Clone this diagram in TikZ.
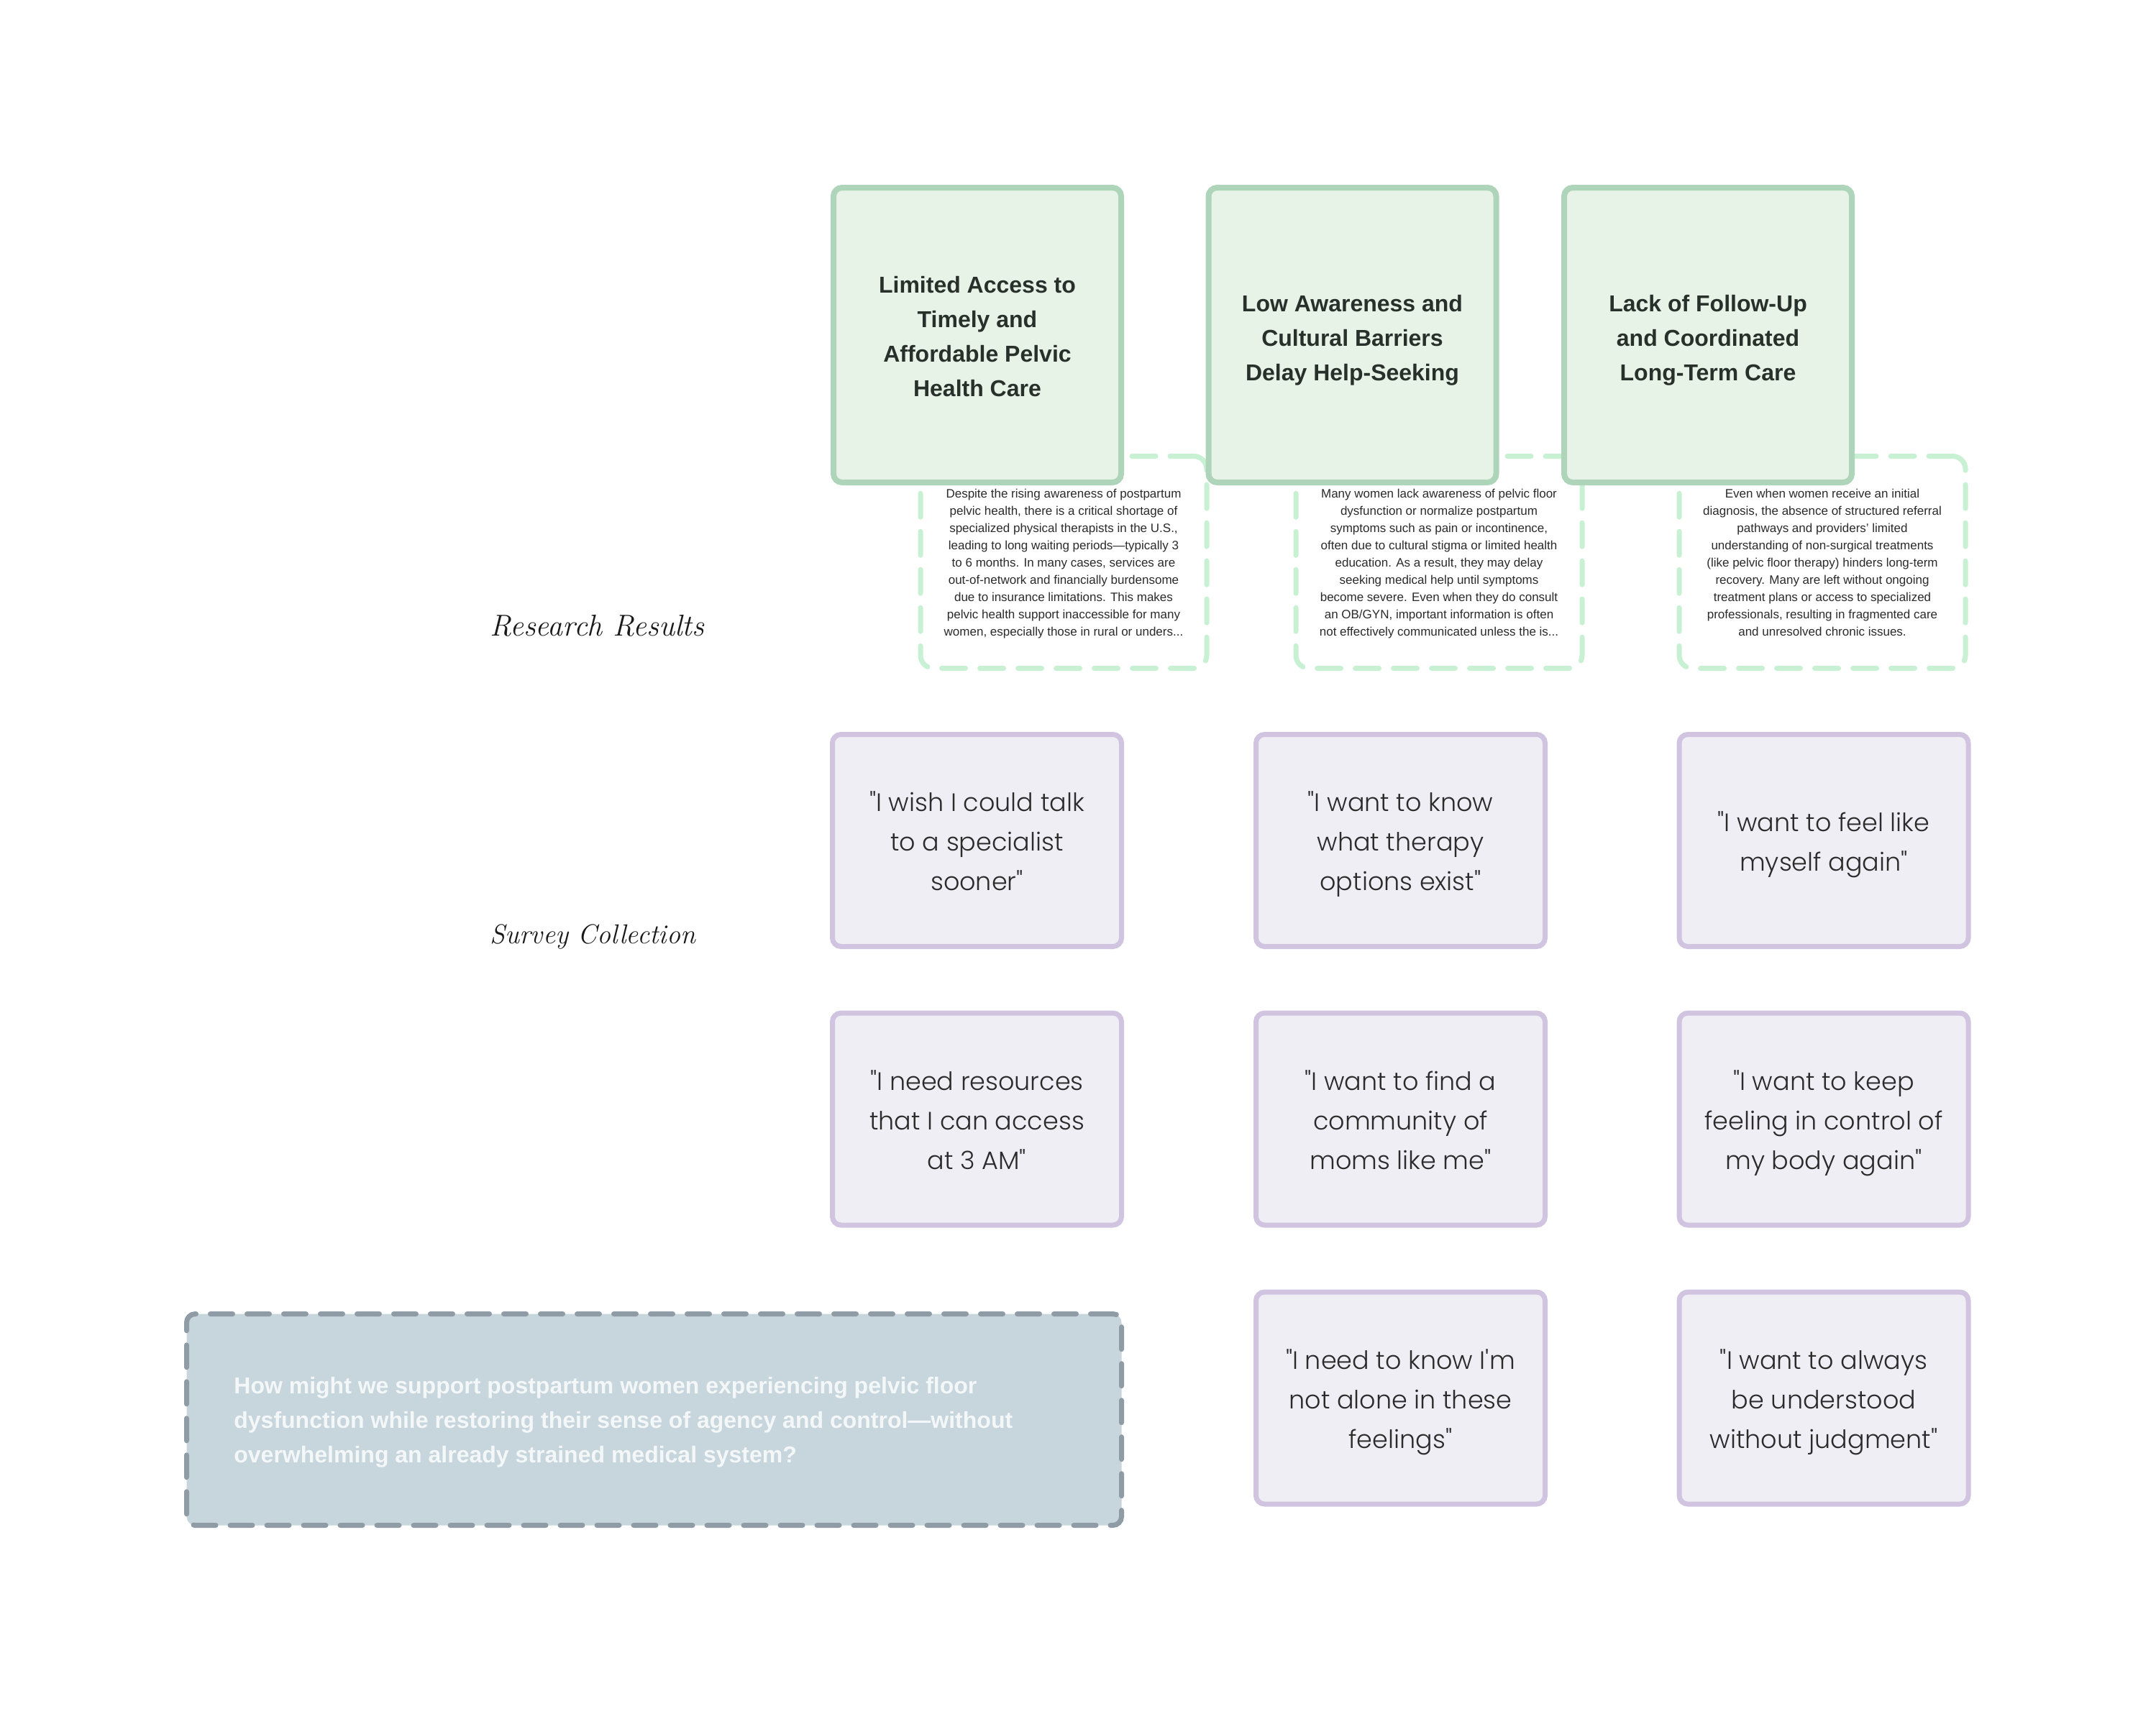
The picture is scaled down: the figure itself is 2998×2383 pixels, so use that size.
\documentclass[tikz,border=0pt]{standalone}
\usepackage{fontspec}
\newfontfamily\sansfont{Liberation Sans}
\newfontfamily\quotefont{Poppins Light}
\definecolor{gfill}{HTML}{E8F3E8}
\definecolor{gline}{HTML}{AED4BA}
\definecolor{mint}{HTML}{C8F0D2}
\definecolor{pfill}{HTML}{EFEEF5}
\definecolor{pline}{HTML}{D0C4E1}
\definecolor{qfill}{HTML}{C7D5DC}
\definecolor{qline}{HTML}{8F9CA6}
\definecolor{ink}{HTML}{2B2B2B}
\definecolor{titleink}{HTML}{27302A}
\definecolor{hmwink}{HTML}{F4F7F8}
% symmetric struts so that line blocks are centred on their line boxes
\newcommand\tstr{\rule[-7.2pt]{0pt}{24pt}}
\newcommand\bstr{\rule[-3pt]{0pt}{12pt}}
\newcommand\qstr{\rule[-6.5pt]{0pt}{27.5pt}}
\newcommand\hstr{\rule[-6.2pt]{0pt}{24pt}}
\tikzset{
  greenbox/.style={draw=gline, fill=gfill, line width=4pt, rounded corners=6pt,
    minimum width=200pt, minimum height=205pt, inner sep=0pt},
  titletext/.style={inner sep=0pt, align=center,
    text=titleink, font=\sansfont\bfseries\fontsize{16}{24}\selectfont},
  dashbox/.style={draw=mint, line width=3.5pt, dash pattern=on 16.5pt off 10pt,
    line cap=round, rounded corners=9pt, minimum width=199pt, minimum height=147.5pt,
    inner sep=0pt, align=center, text=ink, font=\sansfont\fontsize{8.5}{12}\selectfont},
  quotebox/.style={draw=pline, fill=pfill, line width=3.5pt, rounded corners=6pt,
    minimum width=201pt, minimum height=147.5pt, inner sep=0pt, align=center,
    text=ink, font=\quotefont\fontsize{17.5}{27.5}\selectfont},
  hmwbox/.style={draw=qline, fill=qfill, line width=3.5pt, dash pattern=on 15.5pt off 10pt,
    line cap=round, rounded corners=6pt, minimum width=650pt, minimum height=147pt},
  hmwtext/.style={anchor=west, inner sep=0pt, align=left, text=hmwink,
    font=\sansfont\bfseries\fontsize{16}{24}\selectfont},
  sectlabel/.style={anchor=west, inner sep=0pt, text=black!90}
}
\begin{document}
\begin{tikzpicture}[x=0.5pt,y=-0.5pt]
\useasboundingbox[fill=white] (0,0) rectangle (2998,2383);

% research result detail boxes (behind)
\node[dashbox] (d1) at (1479,782) {\bstr Despite the rising awareness of postpartum\\pelvic health, there is a critical shortage of\\specialized physical therapists in the U.S.,\\leading to long waiting periods—typically 3\\to 6 months. In many cases, services are\\out-of-network and financially burdensome\\due to insurance limitations. This makes\\pelvic health support inaccessible for many\\women, especially those in rural or unders...\bstr};
\node[dashbox] (d2) at (2001,782) {\bstr Many women lack awareness of pelvic floor\\dysfunction or normalize postpartum\\symptoms such as pain or incontinence,\\often due to cultural stigma or limited health\\education. As a result, they may delay\\seeking medical help until symptoms\\become severe. Even when they do consult\\an OB/GYN, important information is often\\not effectively communicated unless the is...\bstr};
\node[dashbox] (d3) at (2534,782) {\bstr Even when women receive an initial\\diagnosis, the absence of structured referral\\pathways and providers’ limited\\understanding of non-surgical treatments\\(like pelvic floor therapy) hinders long-term\\recovery. Many are left without ongoing\\treatment plans or access to specialized\\professionals, resulting in fragmented care\\and unresolved chronic issues.\bstr};

% research result headline boxes
\node[greenbox] (g1) at (1359,466) {};
\node[greenbox] (g2) at (1880.5,466) {};
\node[greenbox] (g3) at (2375,466) {};
\node[titletext] (g1t) at ([yshift=-2pt]g1.center) {\tstr Limited Access to\\Timely and\\Affordable Pelvic\\Health Care\tstr};
\node[titletext] (g2t) at ([yshift=-3pt]g2.center) {\tstr Low Awareness and\\Cultural Barriers\\Delay Help-Seeking\tstr};
\node[titletext] (g3t) at ([yshift=-3pt]g3.center) {\tstr Lack of Follow-Up\\and Coordinated\\Long-Term Care\tstr};

% section labels
\node[sectlabel, font=\normalfont\itshape\fontsize{21}{24}\selectfont] (lres) at (681,870) {Research Results};
\node[sectlabel, font=\normalfont\itshape\fontsize{19}{22}\selectfont] (lsur) at (681,1303) {Survey Collection};

% survey quotes
\node[quotebox] (q11) at (1358.5,1169) {\qstr"I wish I could talk\\to a specialist\\sooner"\qstr};
\node[quotebox] (q12) at (1947.5,1169) {\qstr"I want to know\\what therapy\\options exist"\qstr};
\node[quotebox] (q13) at (2536,1169) {\qstr"I want to feel like\\myself again"\qstr};
\node[quotebox] (q21) at (1358.5,1556.5) {\qstr"I need resources\\that I can access\\at 3 AM"\qstr};
\node[quotebox] (q22) at (1947.5,1556.5) {\qstr"I want to find a\\community of\\moms like me"\qstr};
\node[quotebox] (q23) at (2536,1556.5) {\qstr"I want to keep\\feeling in control of\\my body again"\qstr};
\node[quotebox] (q32) at (1947.5,1944.5) {\qstr"I need to know I'm\\not alone in these\\feelings"\qstr};
\node[quotebox] (q33) at (2536,1944.5) {\qstr"I want to always\\be understood\\without judgment"\qstr};

% how might we
\node[hmwbox] (hmw) at (909.5,1974.5) {};
\node[hmwtext] (hmwt) at (325,1975) {\hstr How might we support postpartum women experiencing pelvic floor\\dysfunction while restoring their sense of agency and control—without\\overwhelming an already strained medical system?\hstr};
\end{tikzpicture}
\end{document}
